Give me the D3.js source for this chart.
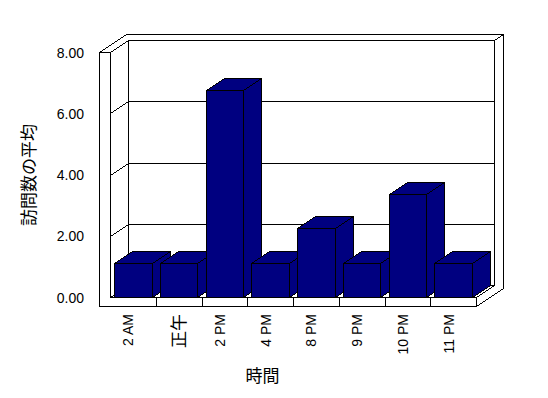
<!DOCTYPE html>
<html>
<head>
<meta charset="utf-8">
<script src="https://cdnjs.cloudflare.com/ajax/libs/d3/7.8.5/d3.min.js"></script>
<style>
  body { margin: 0; background: #fff; }
  svg { display: block; font-family: "Liberation Sans", Arial, "Noto Sans CJK JP", sans-serif; }
</style>
</head>
<body>
<svg id="graph" width="548" height="398"></svg>
<script>
/*******************************************************************************************/
// Data

var categories = ['2 AM', '正午', '2 PM', '4 PM', '8 PM', '9 PM', '10 PM', '11 PM'];
var visits = [1.1, 1.1, 6.77, 1.1, 2.25, 1.1, 3.37, 1.1];
var yTicks = [0, 2, 4, 6, 8];
var yTitle = '訪問数の平均';
var xTitle = '時間';

/*******************************************************************************************/
// Box geometry (front plane + depth offsets)

var left = 110.5, right = 476.5, outer = 99.5;
var depth = [18, -12], total = [27, -18];   // plot depth, depth with the back wall
var floorBottom = 306.5;

var xScale = d3.scaleBand().domain(categories).range([left, right]).paddingInner(0.18).paddingOuter(0.09);
var yScale = d3.scaleLinear().domain([0, 8]).range([297.5, 52.5]);

var lineGen = d3.line();
function poly(pts){ return lineGen(pts) + 'Z'; }
function back(p, k){ k = k || depth; return [p[0] + k[0], p[1] + k[1]]; }
function px(v){ return Math.round(v - 0.5) + 0.5; }
function isCJK(s){ return /[^\x00-\x7F]/.test(s); }

var svg = d3.select('#graph');
var g = svg.append('g').attr('shape-rendering', 'crispEdges')
  .attr('stroke', '#000').attr('stroke-width', 1);

var y0 = yScale(0), yTop = yScale(8);

/*******************************************************************************************/
// Walls and floor

// right side of floor + back wall
g.append('path').attr('fill', '#fff').attr('d', poly([
  [right, y0], back([right, y0]), back([right, yTop]), back([right, yTop], total),
  back([right, floorBottom], total), [right, floorBottom]
]));

// top edges of left + back wall
g.append('path').attr('fill', '#fff').attr('d', poly([
  [outer, yTop], [left, yTop], back([left, yTop]), back([right, yTop]),
  back([right, yTop], total), back([outer, yTop], total)
]));

// back wall
g.append('path').attr('fill', '#fff').attr('d', poly([
  back([left, yTop]), back([right, yTop]), back([right, y0]), back([left, y0])
]));

// left wall inner face
g.append('path').attr('fill', '#fff').attr('d', poly([
  [left, yTop], back([left, yTop]), back([left, y0]), [left, y0]
]));

// gridlines
yTicks.filter(function(t){ return t > 0 && t < 8; }).forEach(function(t){
  var y = px(yScale(t));
  g.append('path').attr('fill', 'none').attr('d', lineGen([[left, y], back([left, y]), back([right, y])]));
  g.append('path').attr('fill', 'none').attr('d', lineGen([[outer, y], [left, y]]));
});

// floor top
g.append('path').attr('fill', '#fff').attr('d', poly([
  [left, y0], [right, y0], back([right, y0]), back([left, y0])
]));

// front face of left wall + floor
g.append('path').attr('fill', '#fff').attr('d', poly([
  [outer, yTop], [left, yTop], [left, y0], [right, y0], [right, floorBottom], [outer, floorBottom]
]));

// category separators on floor front
categories.slice(1).forEach(function(d, i){
  var x = px(left + (i + 1) * xScale.step());
  g.append('path').attr('d', lineGen([[x, y0], [x, floorBottom]]));
});

/*******************************************************************************************/
// Bars

categories.forEach(function(d, i){
  var x1 = px(xScale(d)), x2 = px(xScale(d) + xScale.bandwidth());
  var yt = px(yScale(visits[i]));
  var bar = g.append('g').attr('fill', '#000080');
  bar.append('path').attr('d', poly([[x2, yt], back([x2, yt]), back([x2, y0]), [x2, y0]]));
  bar.append('path').attr('d', poly([[x1, yt], [x2, yt], back([x2, yt]), back([x1, yt])]));
  bar.append('path').attr('d', poly([[x1, yt], [x2, yt], [x2, y0], [x1, y0]]));
});

/*******************************************************************************************/
// Labels

svg.selectAll('.ytick').data(yTicks).enter().append('text')
  .attr('class', 'ytick')
  .attr('x', 84).attr('y', function(d){ return yScale(d); })
  .attr('text-anchor', 'end').attr('dominant-baseline', 'central')
  .style('font-size', '14px')
  .text(d3.format('.2f'));

svg.selectAll('.xtick').data(categories).enter().append('text')
  .attr('class', 'xtick')
  .attr('transform', function(d){
    var cx = xScale(d) + xScale.bandwidth() / 2 + (isCJK(d) ? 0 : -5);
    return 'translate(' + cx + ',' + 314 + ') rotate(-90)';
  })
  .attr('text-anchor', 'end').attr('dominant-baseline', 'central')
  .style('font-size', function(d){ return isCJK(d) ? '17px' : '14px'; })
  .text(function(d){ return d; });

svg.append('text')
  .attr('transform', 'translate(' + 29 + ',' + ((yScale(0) + yScale(8)) / 2) + ') rotate(-90)')
  .attr('text-anchor', 'middle').attr('dominant-baseline', 'central')
  .style('font-size', '17px')
  .text(yTitle);

svg.append('text')
  .attr('x', 262.5).attr('y', 376)
  .attr('text-anchor', 'middle').attr('dominant-baseline', 'central')
  .style('font-size', '17px')
  .text(xTitle);
</script>
</body>
</html>
